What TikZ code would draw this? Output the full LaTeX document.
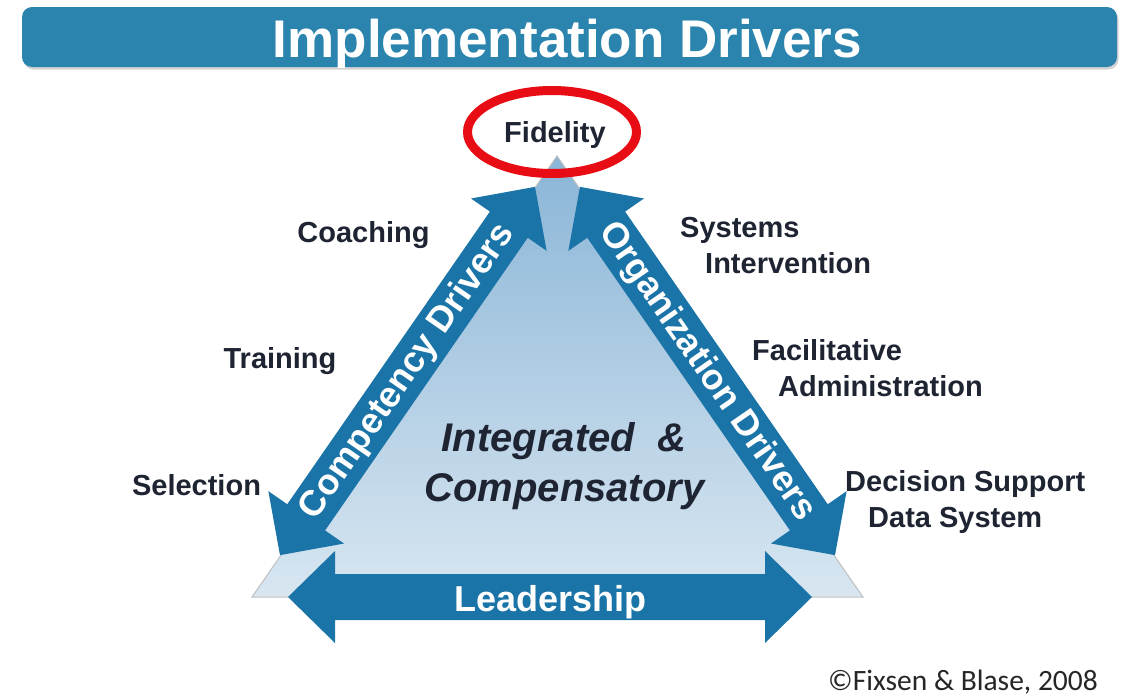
\documentclass[tikz,border=0pt]{standalone}
\usepackage{fontspec}
\setmainfont{Liberation Sans}
\newfontfamily\creditfont{Carlito}
\usepackage{tikz}
\usepackage{xcolor}
\usetikzlibrary{shadows}

\definecolor{drvblue}{RGB}{26,116,167}
\definecolor{bannerblue}{RGB}{42,132,174}
\definecolor{labelink}{RGB}{31,36,51}
\definecolor{tritop}{RGB}{138,181,215}
\definecolor{tribottom}{RGB}{216,230,241}
\definecolor{ringred}{RGB}{232,12,20}

\begin{document}
\begin{tikzpicture}[x=1pt, y=-1pt,
        driver/.style={fill=drvblue, draw=none},
        sidelabel/.style={anchor=base west, text=labelink, inner sep=0pt, font=\bfseries\fontsize{29}{35}\selectfont},
        arrowlabel/.style={text=white, inner sep=0pt, font=\bfseries\fontsize{36}{40}\selectfont},
        middlelabel/.style={anchor=base, text=labelink, inner sep=0pt, font=\bfseries\itshape\fontsize{40}{48}\selectfont}]

            \useasboundingbox (0, 0) rectangle (1127, 696);

            \fill[bannerblue, rounded corners=10pt, drop shadow={opacity=0.35, shadow xshift=1.5pt, shadow yshift=-2.5pt}] (22, 7) rectangle (1117, 67);
            \node[anchor=base, text=white, inner sep=0pt, font=\bfseries\fontsize{53}{60}\selectfont] (title) at (567.5, 57) {Implementation Drivers};

            \draw[black!25, line width=1pt, top color=tritop, bottom color=tribottom] (557, 156) -- (252, 597) -- (863, 597) -- cycle;

            \begin{scope}[shift={(407.5, 371)}, rotate=55.3]
                \fill[driver] (-224, 0) -- (-178, -46) -- (-178, -23) -- (178, -23) -- (178, -46) -- (224, 0) -- (178, 46) -- (178, 23) -- (-178, 23) -- (-178, 46) -- cycle;
            \end{scope}
            \begin{scope}[shift={(707.5, 371)}, rotate=-55.3]
                \fill[driver] (-224, 0) -- (-178, -46) -- (-178, -23) -- (178, -23) -- (178, -46) -- (224, 0) -- (178, 46) -- (178, 23) -- (-178, 23) -- (-178, 46) -- cycle;
            \end{scope}
            \begin{scope}[shift={(550, 597)}]
                \fill[driver] (-262, 0) -- (-215, -46) -- (-215, -23) -- (215, -23) -- (215, -46) -- (262, 0) -- (215, 46) -- (215, 23) -- (-215, 23) -- (-215, 46) -- cycle;
            \end{scope}

            \node[arrowlabel, rotate=55.3] (competency) at (408, 372) {Competency Drivers};
            \node[arrowlabel, rotate=-55.3] (organization) at (707, 372) {Organization Drivers};
            \node[arrowlabel, anchor=base] (leadership) at (550.5, 611) {Leadership};

            \draw[ringred, line width=9pt] (552, 132) ellipse [x radius=84.5, y radius=41.5];
            \node[sidelabel, anchor=base] (fidelity) at (555, 142.5) {Fidelity};

            \node[sidelabel, anchor=base] (coaching) at (363.5, 242.5) {Coaching};
            \node[sidelabel, anchor=base] (training) at (280, 368.5) {Training};
            \node[sidelabel, anchor=base] (selection) at (196.5, 495.5) {Selection};

            \node[sidelabel] (systems) at (680, 237.5) {Systems};
            \node[sidelabel] (intervention) at (705, 273.5) {Intervention};
            \node[sidelabel] (facilitative) at (752, 360.5) {Facilitative};
            \node[sidelabel] (administration) at (778, 396.5) {Administration};
            \node[sidelabel] (decision) at (845, 491.5) {Decision Support};
            \node[sidelabel] (datasystem) at (868, 527.5) {Data System};

            \node[middlelabel] (integrated) at (564, 451) {Integrated\ \ \&};
            \node[middlelabel] (compensatory) at (564.5, 501) {Compensatory};

            \node[anchor=base, text=black!85, inner sep=0pt, font=\creditfont\fontsize{29.5}{34}\selectfont] (credit) at (963, 690) {©Fixsen \& Blase, 2008};
        \end{tikzpicture}
\end{document}
